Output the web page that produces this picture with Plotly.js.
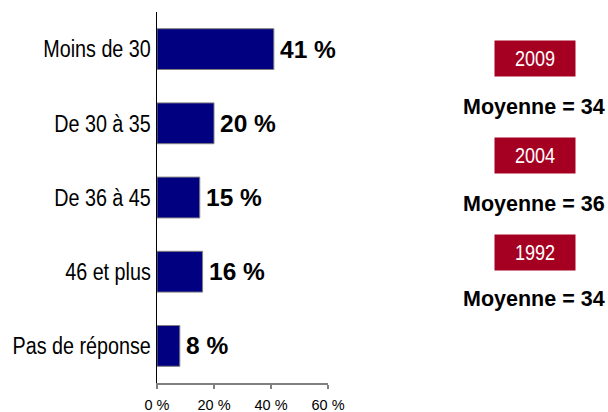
<!DOCTYPE html>
<html>
<head>
<meta charset="utf-8">
<script src="https://cdn.plot.ly/plotly-3.0.1.min.js"></script>
<style>html,body{margin:0;padding:0;background:#fff;}#chart{width:608px;height:412px;}</style>
</head>
<body>
<div id="chart"></div>
<script>
const categories = ["Moins de 30", "De 30 à 35", "De 36 à 45", "46 et plus", "Pas de réponse"];
const values = [41, 20, 15, 16, 8];
const valueLabels = ["41 %", "20 %", "15 %", "16 %", "8 %"];
const tickVals = [0, 20, 40, 60];
const tickLabels = ["0 %", "20 %", "40 %", "60 %"];
const years = ["2009", "2004", "1992"];
const moyennes = ["Moyenne = 34", "Moyenne = 36", "Moyenne = 34"];

const sans = "Liberation Sans, Arial, sans-serif";
const NARROW = 0.84;

const trace = {
  type: "bar",
  orientation: "h",
  y: categories,
  x: values,
  marker: {color: "#000080", line: {color: "#808080", width: 1}},
  hoverinfo: "none"
};

const annotations = [];
categories.forEach((c, i) => {
  annotations.push({
    xref: "x", yref: "y", x: values[i], y: c,
    text: "<b>" + valueLabels[i] + "</b>", showarrow: false,
    xanchor: "left", yanchor: "middle", xshift: 4,
    font: {family: sans, size: 24.5, color: "#000"}
  });
});
const boxY = [58.5, 155.5, 251.5];
const moyY = [107, 203, 298];
years.forEach((yr, i) => {
  annotations.push({
    xref: "paper", yref: "paper",
    x: (536 - 157) / 171.5, y: 1 - (boxY[i] - 12) / 370,
    text: yr, showarrow: false,
    xanchor: "center", yanchor: "middle",
    width: 78, height: 33,
    bgcolor: "#A50021",
    font: {family: sans, size: 22, color: "#fff"}
  });
  annotations.push({
    xref: "paper", yref: "paper",
    x: (535.5 - 157) / 171.5, y: 1 - (moyY[i] - 12) / 370,
    text: "<b>" + moyennes[i] + "</b>", showarrow: false,
    xanchor: "center", yanchor: "middle",
    font: {family: sans, size: 21.5, color: "#000"}
  });
});

const layout = {
  width: 608, height: 412,
  margin: {l: 157, r: 279.5, t: 12, b: 29},
  paper_bgcolor: "#fff", plot_bgcolor: "#fff",
  showlegend: false,
  bargap: 0.45,
  xaxis: {
    range: [0, 60],
    tickvals: tickVals, ticktext: tickLabels,
    showgrid: false, zeroline: false,
    showline: true, linecolor: "#808080", linewidth: 1.5,
    ticks: "outside", ticklen: 4, tickcolor: "#808080", tickwidth: 1.5,
    tickfont: {family: sans, size: 14.5, color: "#000"},
    ticklabelstandoff: 4,
    fixedrange: true
  },
  yaxis: {
    autorange: "reversed",
    showgrid: false, zeroline: false,
    showline: true, linecolor: "#000", linewidth: 1.5,
    ticks: "",
    tickfont: {family: sans, size: 23.5, color: "#000"},
    ticklabelstandoff: 0,
    fixedrange: true
  },
  annotations: annotations
};

function squeeze(t, f) {
  const w = t.getComputedTextLength();
  t.setAttribute("textLength", (w * f).toFixed(2));
  t.setAttribute("lengthAdjust", "spacingAndGlyphs");
}

Plotly.newPlot("chart", [trace], layout, {displayModeBar: false, staticPlot: true}).then(() => {
  document.querySelectorAll("#chart .ytick text").forEach(t => squeeze(t, NARROW));
  document.querySelectorAll("#chart text.annotation-text").forEach(t => {
    if (years.indexOf(t.textContent.trim()) >= 0) squeeze(t, 0.82);
  });
});
</script>
</body>
</html>
